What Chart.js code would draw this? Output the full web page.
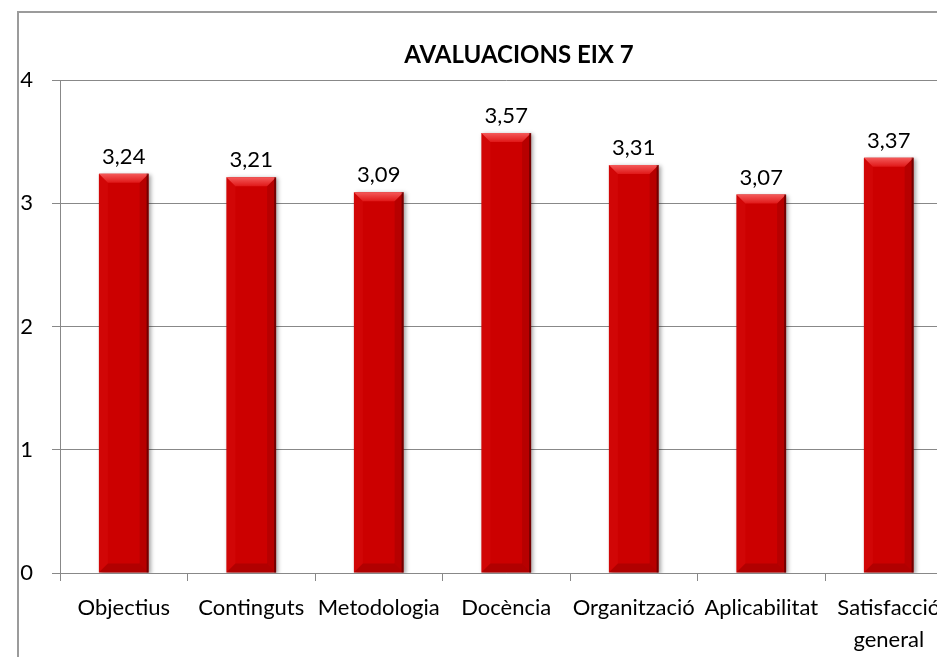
<!DOCTYPE html>
<html>
<head>
<meta charset="utf-8">
<script src="https://cdn.jsdelivr.net/npm/chart.js@4.4.1/dist/chart.umd.min.js"></script>
<style>
    html, body { margin: 0; padding: 0; background: #fff; overflow: hidden; }
    #avaluacions { position: absolute; left: 19px; top: 13px; outline: 2px solid #9b9b9b; }
</style>
</head>
<body>
<canvas id="avaluacions" width="1000" height="700"></canvas>
<script>
const categories = ['Objectius', 'Continguts', 'Metodologia', 'Docència', 'Organització', 'Aplicabilitat', ['Satisfacció', 'general']];
const scores = [3.24, 3.21, 3.09, 3.57, 3.31, 3.07, 3.37];
const yTicks = [0, 1, 2, 3, 4];
const chartTitle = 'AVALUACIONS EIX 7';

const FONT = "Lato, 'Open Sans', sans-serif";

function formatScore(value) {
    return value.toFixed(2).replace('.', ',');
}

function fillPoly(ctx, pts, style) {
    ctx.beginPath();
    ctx.moveTo(pts[0][0], pts[0][1]);
    pts.slice(1).forEach((p) => ctx.lineTo(p[0], p[1]));
    ctx.closePath();
    ctx.fillStyle = style;
    ctx.fill();
}

// sombra suau sota les barres
const barShadow = {
    id: 'barShadow',
    beforeDatasetDraw(chart) {
        const ctx = chart.ctx;
        ctx.save();
        ctx.shadowColor = 'rgba(0, 0, 0, 0.35)';
        ctx.shadowBlur = 4;
        ctx.shadowOffsetX = 2;
        ctx.shadowOffsetY = 1;
    },
    afterDatasetDraw(chart) {
        chart.ctx.restore();
    },
};

// bisell estil Excel + etiquetes de valor
const bevelAndLabels = {
    id: 'bevelAndLabels',
    afterDatasetsDraw(chart) {
        const ctx = chart.ctx;
        const meta = chart.getDatasetMeta(0);
        meta.data.forEach((bar, i) => {
            const { x, y, base, width } = bar.getProps(['x', 'y', 'base', 'width'], true);
            const l = x - width / 2;
            const r = x + width / 2;
            const t = y;
            const b = base;
            const d = 9;
            ctx.save();
            const top = ctx.createLinearGradient(0, t, 0, t + d);
            top.addColorStop(0, '#f45a5a');
            top.addColorStop(1, '#e01818');
            fillPoly(ctx, [[l, t], [r, t], [r - d, t + d], [l + d, t + d]], top);
            fillPoly(ctx, [[l, t], [l + d, t + d], [l + d, b - d], [l, b]], 'rgba(255, 60, 60, 0.10)');
            fillPoly(ctx, [[r, t], [r - d, t + d], [r - d, b - d], [r, b]], 'rgba(0, 0, 0, 0.10)');
            fillPoly(ctx, [[l, b], [l + d, b - d], [r - d, b - d], [r, b]], 'rgba(80, 0, 0, 0.22)');
            ctx.fillStyle = 'rgba(60, 0, 0, 0.55)';
            ctx.fillRect(r - 2, t, 2, b - t);

            ctx.fillStyle = '#000';
            ctx.font = `22px ${FONT}`;
            ctx.textAlign = 'center';
            ctx.textBaseline = 'alphabetic';
            ctx.fillText(formatScore(scores[i]), x, t - 10);
            ctx.restore();
        });
    },
};

const ctx = document.getElementById('avaluacions').getContext('2d');
new Chart(ctx, {
    type: 'bar',
    data: {
        labels: categories,
        datasets: [
            {
                data: scores,
                backgroundColor: '#cc0000',
                borderWidth: 0,
                categoryPercentage: 1,
                barPercentage: 0.39,
            },
        ],
    },
    options: {
        responsive: false,
        devicePixelRatio: 1,
        animation: false,
        layout: { padding: { left: 0, right: 0, top: 0, bottom: 60 } },
        plugins: {
            legend: { display: false },
            tooltip: { enabled: false },
            title: {
                display: true,
                text: chartTitle,
                color: '#000',
                font: { family: FONT, size: 24, weight: 'bold', lineHeight: 1.2 },
                padding: { top: 28, bottom: 10.2 },
            },
        },
        scales: {
            x: {
                offset: true,
                grid: { display: true, drawOnChartArea: false, drawTicks: true, tickLength: 8, color: '#888', offset: true },
                border: { display: true, color: '#888' },
                ticks: {
                    color: '#000',
                    font: { family: FONT, size: 22, lineHeight: 1.45 },
                    padding: 11,
                    maxRotation: 0,
                    minRotation: 0,
                    autoSkip: false,
                },
                afterFit: (s) => { s.height = 80; },
            },
            y: {
                min: 0,
                max: 4,
                afterBuildTicks: (s) => { s.ticks = yTicks.map((v) => ({ value: v })); },
                grid: { color: '#888', tickLength: 8 },
                border: { display: true, color: '#888' },
                ticks: {
                    color: '#000',
                    font: { family: FONT, size: 22 },
                    padding: 19,
                },
                afterFit: (s) => { s.width = 41; },
            },
            yRight: {
                position: 'right',
                display: true,
                grid: { display: false, drawTicks: false },
                border: { display: false },
                ticks: { display: false },
                afterFit: (s) => { s.width = 66.5; },
            },
        },
    },
    plugins: [barShadow, bevelAndLabels],
});
</script>
</body>
</html>
